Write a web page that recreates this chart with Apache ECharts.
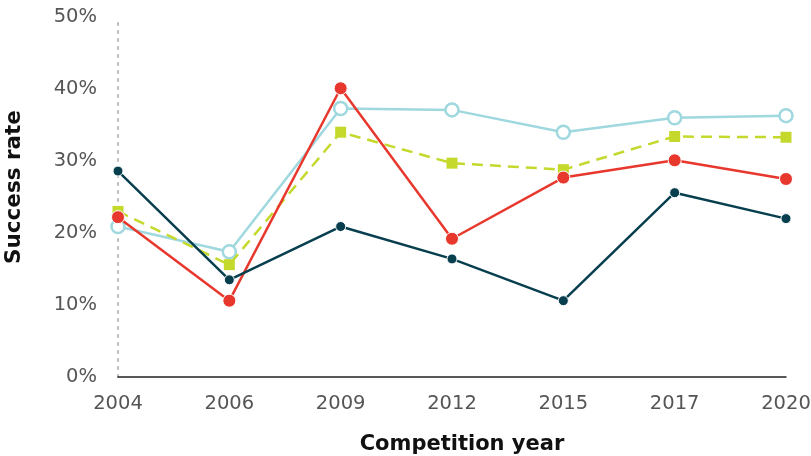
<!DOCTYPE html>
<html><head><meta charset="utf-8">
<script src="https://cdn.jsdelivr.net/npm/echarts@6/dist/echarts.min.js"></script>
<style>html,body{margin:0;padding:0;background:#fff}#c{width:811px;height:456px}</style>
</head><body><div id="c"></div>
<script>
const years = ['2004','2006','2009','2012','2015','2017','2020'];
const navy = [28.6, 13.5, 20.9, 16.4, 10.6, 25.6, 22.0];
const red = [22.2, 10.6, 40.1, 19.2, 27.7, 30.1, 27.5];
const lightBlue = [20.9, 17.4, 37.3, 37.1, 34.0, 36.0, 36.3];
const lime = [23.0, 15.6, 34.0, 29.7, 28.8, 33.4, 33.3];
const yTicks = [0, 10, 20, 30, 40, 50];

const chart = echarts.init(document.getElementById('c'), null, {renderer: 'canvas'});
const font = '"DejaVu Sans", sans-serif';
chart.setOption({
  animation: false,
  grid: {left: 118, right: 25, top: 17, bottom: 79, outerBoundsMode: 'none', containLabel: false},
  xAxis: {
    type: 'category', data: years, boundaryGap: false,
    axisLine: {lineStyle: {color: '#222', width: 1.5}},
    axisTick: {show: false},
    axisLabel: {color: '#555', fontSize: 19.5, fontFamily: font, margin: 17},
    name: 'Competition year', nameLocation: 'middle', nameGap: 57,
    nameTextStyle: {color: '#111', fontSize: 21, fontWeight: 'bold', fontFamily: font, padding: [0, 0, 0, 20]}
  },
  yAxis: {
    type: 'value', min: yTicks[0], max: yTicks[yTicks.length-1], interval: 10,
    axisLine: {show: true, lineStyle: {color: '#bbb', type: [2, 6], width: 2}},
    axisTick: {show: false},
    splitLine: {show: false},
    axisLabel: {color: '#555', fontSize: 19.5, fontFamily: font, margin: 21, formatter: v => v + '%'},
    name: 'Success rate', nameLocation: 'middle', nameGap: 93,
    nameTextStyle: {color: '#111', fontSize: 21.5, fontWeight: 'bold', fontFamily: font, padding: [0, 0, 0, 20]}
  },
  series: [
    {type: 'line', data: lightBlue, symbol: 'circle', symbolSize: 13,
      lineStyle: {color: '#9fd8de', width: 2.5},
      itemStyle: {color: '#fff', borderColor: '#9fd8de', borderWidth: 2.5}, z: 2},
    {type: 'line', data: lime, symbol: 'rect', symbolSize: 11,
      lineStyle: {color: '#c5d92d', width: 2.5, type: [11, 7]},
      itemStyle: {color: '#c5d92d'}, z: 3},
    {type: 'line', data: red, symbol: 'circle', symbolSize: 13,
      lineStyle: {color: '#e8382d', width: 2.5},
      itemStyle: {color: '#e8382d', borderColor: '#fff', borderWidth: 1}, z: 4},
    {type: 'line', data: navy, symbol: 'circle', symbolSize: 10,
      lineStyle: {color: '#073f4f', width: 2.5},
      itemStyle: {color: '#073f4f', borderColor: '#fff', borderWidth: 1}, z: 5}
  ]
});
</script></body></html>
